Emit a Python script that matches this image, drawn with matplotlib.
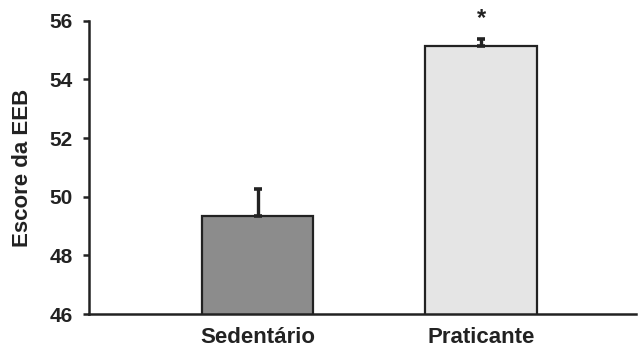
import matplotlib.pyplot as plt

groups = ['Sedentário', 'Praticante']
means = [49.34, 55.15]
errors = [0.91, 0.22]
bar_colors = ['#8c8c8c', '#e5e5e5']

plt.rcParams['font.family'] = ['Liberation Sans', 'DejaVu Sans']
plt.rcParams['font.weight'] = 'bold'

fig = plt.figure(figsize=(6.38, 3.47), dpi=100)
ax = fig.add_axes([0.1395, 0.095, 0.857, 0.845])

x = list(range(len(groups)))
ax.bar(x, means, width=0.5, color=bar_colors, edgecolor='#222222', linewidth=1.6, zorder=2)
ax.errorbar(x, means, yerr=[[0, 0], errors], fmt='none', ecolor='#222222',
            elinewidth=2.4, capsize=3, capthick=2.6, zorder=3)

# significance marker
ax.text(1, 56.09, '*', ha='center', va='center', fontsize=17, color='#222222',
        clip_on=False)

ax.set_xlim(-0.753, 1.69)
ax.set_ylim(46, 56)
ax.set_yticks([46, 48, 50, 52, 54, 56])
ax.set_xticks(x)
ax.set_xticklabels(groups, fontsize=16, fontweight='bold', color='#222222')
ax.tick_params(axis='y', labelsize=15, length=4.5, width=1.8, color='#222222',
               labelcolor='#222222', pad=7)
ax.tick_params(axis='x', length=0, pad=9)
ax.set_ylabel('Escore da EEB', fontsize=16, fontweight='bold', color='#222222', labelpad=12)

for side in ['top', 'right']:
    ax.spines[side].set_visible(False)
for side in ['left', 'bottom']:
    ax.spines[side].set_linewidth(1.8)
    ax.spines[side].set_color('#222222')

fig.savefig('out.png', dpi=100)
